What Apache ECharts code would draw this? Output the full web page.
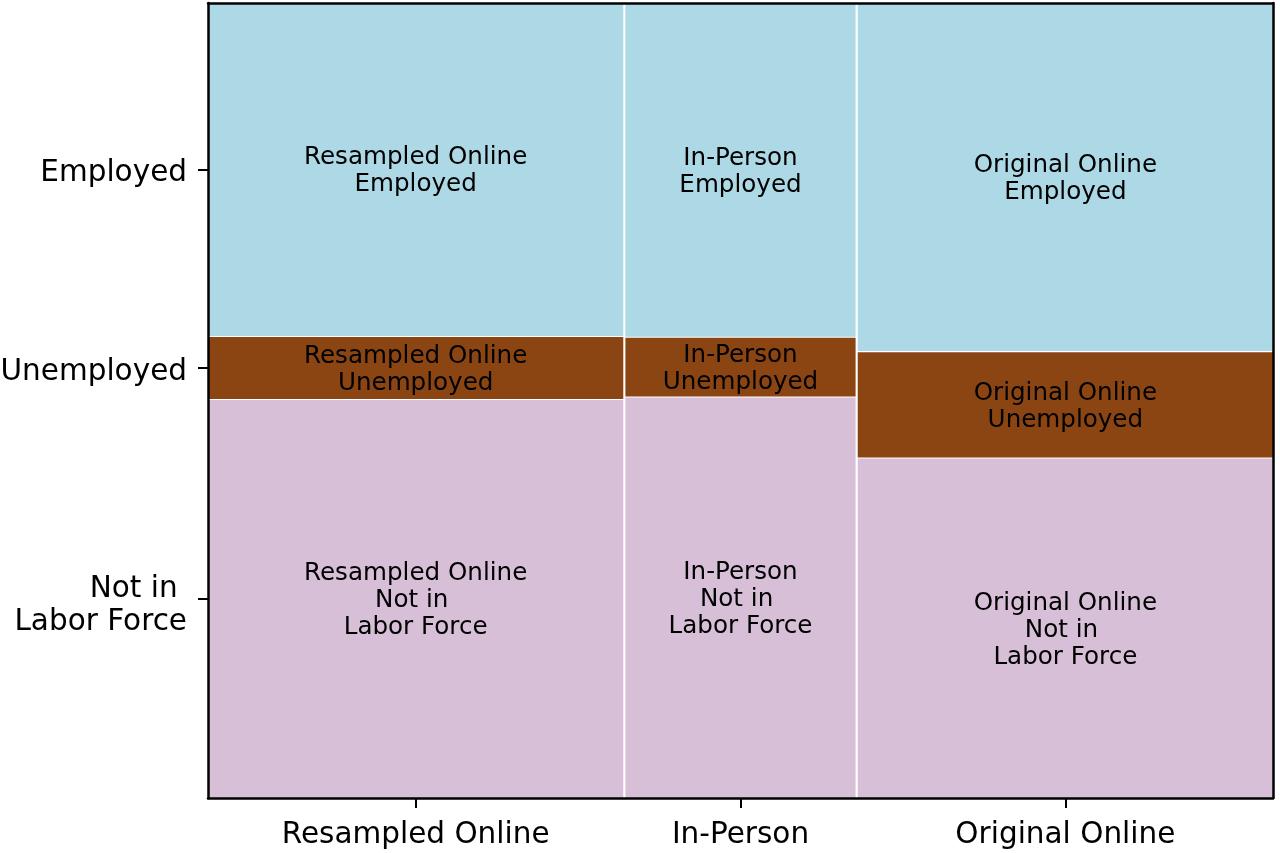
<!DOCTYPE html>
<html>
<head>
<meta charset="utf-8">
<title>Mosaic</title>
<script src="https://cdn.jsdelivr.net/npm/echarts@6/dist/echarts.min.js"></script>
<style>
  html, body { margin: 0; padding: 0; background: #fff; }
  #chart { width: 1280px; height: 853px; }
</style>
</head>
<body>
<div id="chart"></div>
<script>
// groups along x, with their share of width
var groups = ['Resampled Online', 'In-Person', 'Original Online'];
var groupWeights = [0.3915, 0.217, 0.3915];
// status shares inside each group (top to bottom)
var statuses = ['Employed', 'Unemployed', 'Not in \nLabor Force'];
var employed = [0.420, 0.421, 0.439];
var unemployed = [0.078, 0.074, 0.133];
var notInLF = [0.502, 0.505, 0.428];

var colors = ['#ADD8E6', '#8B4513', '#D8BFD8'];
var xGap = 0.002, yGap = 0.0013;
var font = 'DejaVu Sans';

// build tiles from the shares
var shares = [employed, unemployed, notInLF];
var tiles = [];
var xCenters = [];
var yCenters = [];
var x = 0;
for (var i = 0; i < groups.length; i++) {
  var x0 = x, x1 = x + groupWeights[i];
  xCenters.push((x0 + x1) / 2);
  var usable = 1 - yGap * (statuses.length - 1);
  var y = 0;
  // from bottom up: last status first
  for (var j = statuses.length - 1; j >= 0; j--) {
    var h = shares[j][i] * usable;
    tiles.push({
      value: [x0, x1, y, y + h, j],
      label: groups[i] + '\n' + statuses[j]
    });
    if (i === 0) yCenters[j] = y + h / 2;
    y += h + yGap;
  }
  x = x1 + xGap;
}
var xMax = x - xGap;

var frameLine = { show: true, onZero: false, lineStyle: { color: '#000', width: 2.5 } };
var tickStyle = { color: '#000', width: 2 };

var chart = echarts.init(document.getElementById('chart'));
chart.setOption({
  animation: false,
  grid: {
    left: 208, right: 7, top: 3, bottom: 55,
    outerBoundsMode: 'none'
  },
  xAxis: [{
    type: 'value', min: 0, max: xMax, z: 5,
    splitLine: { show: false },
    axisLine: frameLine,
    axisTick: { show: true, customValues: xCenters, length: 10, lineStyle: tickStyle },
    axisLabel: {
      customValues: xCenters, margin: 22,
      fontFamily: font, fontSize: 29.5, color: '#000',
      formatter: function (v) {
        for (var k = 0; k < xCenters.length; k++) {
          if (Math.abs(xCenters[k] - v) < 1e-6) return groups[k];
        }
        return '';
      }
    }
  }, {
    // top edge of the frame
    type: 'value', position: 'top', min: 0, max: xMax, z: 5,
    splitLine: { show: false }, axisTick: { show: false }, axisLabel: { show: false },
    axisLine: frameLine
  }],
  yAxis: [{
    type: 'value', min: 0, max: 1, z: 5,
    splitLine: { show: false },
    axisLine: frameLine,
    axisTick: { show: true, customValues: yCenters, length: 10, lineStyle: tickStyle },
    axisLabel: {
      customValues: yCenters, margin: 21,
      color: '#000',
      formatter: function (v) {
        for (var k = 0; k < yCenters.length; k++) {
          if (Math.abs(yCenters[k] - v) < 1e-6) {
            var lines = statuses[k].split('\n');
            if (lines.length === 1) return '{s|' + lines[0] + '}';
            return '{m|' + lines[0] + '}\n{l|' + lines[1] + '}';
          }
        }
        return '';
      },
      rich: {
        s: { fontFamily: font, fontSize: 29.5, lineHeight: 33, color: '#000', padding: [8, 0, 0, 0] },
        m: { fontFamily: font, fontSize: 29.5, lineHeight: 33, color: '#000', padding: [14, 0, 0, 0] },
        l: { fontFamily: font, fontSize: 29.5, lineHeight: 33, color: '#000', padding: [14, 0, 0, 0] }
      }
    }
  }, {
    // right edge of the frame
    type: 'value', position: 'right', min: 0, max: 1, z: 5,
    splitLine: { show: false }, axisTick: { show: false }, axisLabel: { show: false },
    axisLine: frameLine
  }],
  series: [{
    type: 'custom',
    silent: true,
    clip: false,
    z: 2,
    data: tiles.map(function (t) { return t.value; }),
    encode: { x: [0, 1], y: [2, 3] },
    renderItem: function (params, api) {
      var p0 = api.coord([api.value(0), api.value(3)]);
      var p1 = api.coord([api.value(1), api.value(2)]);
      return {
        type: 'rect',
        shape: { x: p0[0], y: p0[1], width: p1[0] - p0[0], height: p1[1] - p0[1] },
        style: { fill: colors[api.value(4)] },
        textContent: {
          style: {
            text: tiles[params.dataIndex].label,
            fontFamily: font, fontSize: 24.6, lineHeight: 27,
            fill: '#000', align: 'center'
          }
        },
        textConfig: { position: 'inside', offset: [0, 2] }
      };
    }
  }]
});
</script>
</body>
</html>
